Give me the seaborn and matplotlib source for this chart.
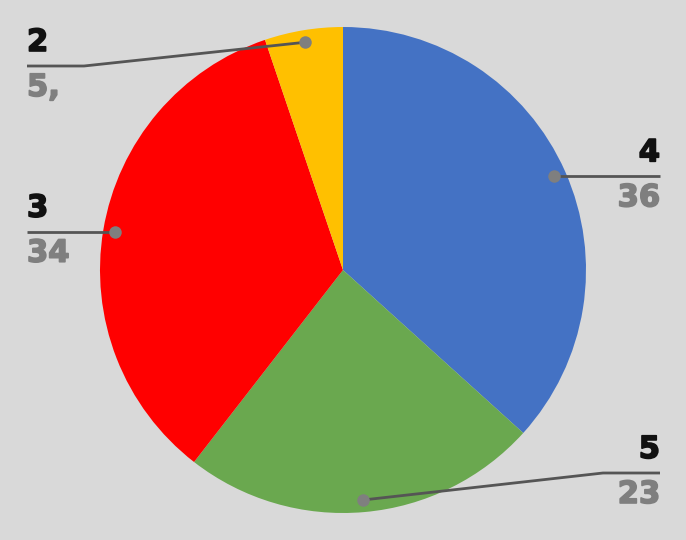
import numpy as np
import matplotlib
matplotlib.use("Agg")
import matplotlib.pyplot as plt
import matplotlib.patheffects as pe
import seaborn as sns

# slices, clockwise from 12 o'clock
categories = ["4", "5", "3", "2"]
values = [36.7, 23.8, 34.3, 5.2]
value_labels = ["36", "23", "34", "5,"]
colors = ["#4472C4", "#6AA84F", "#FF0000", "#FFC000"]

sns.set_style("white")
plt.rcParams["font.family"] = ["DejaVu Sans"]

W, H = 686, 540
bg = "#D9D9D9"
fig = plt.figure(figsize=(W / 100, H / 100), dpi=100, facecolor=bg)
ax = fig.add_axes([0, 0, 1, 1])
ax.set_facecolor(bg)

cx, cy, R = 343, H - 270, 243
ax.pie(values, colors=colors, startangle=90, counterclock=False,
       center=(cx, cy), radius=R, wedgeprops=dict(linewidth=0))
ax.set_xlim(0, W)
ax.set_ylim(0, H)
ax.set_aspect("equal")
ax.axis("off")

# label placement (pixel coords from top): text anchor x, line y, elbow x
layout = {
    "4": dict(x=660, ly=None, ha="right", elbow=None),
    "5": dict(x=660, ly=473, ha="right", elbow=603),
    "3": dict(x=27, ly=None, ha="left", elbow=None),
    "2": dict(x=27, ly=66, ha="left", elbow=84),
}

frac = np.array(values) / sum(values)
ends = np.cumsum(frac) * 360
starts = ends - frac * 360
mids = (starts + ends) / 2

line_col = "#555555"
dot_col = "#7F7F7F"
fs = 22
for cat, lab, m in zip(categories, value_labels, mids):
    t = np.deg2rad(m)
    dx = cx + 0.95 * R * np.sin(t)
    dy = cy + 0.95 * R * np.cos(t)
    L = layout[cat]
    if L["elbow"] is None:
        ly = dy
        xs = [L["x"], dx]
        ys = [ly, dy]
    else:
        ly = H - L["ly"]
        xs = [L["x"], L["elbow"], dx]
        ys = [ly, ly, dy]
    ax.plot(xs, ys, color=line_col, lw=2, solid_capstyle="butt", zorder=3)
    ax.plot([dx], [dy], "o", color=dot_col, ms=9, mec="none", zorder=4)
    ax.text(L["x"], ly + 9, cat, ha=L["ha"], va="bottom", fontsize=fs,
            fontweight="bold", color="#111111",
            path_effects=[pe.withStroke(linewidth=1.2, foreground="#111111")])
    ax.text(L["x"], ly - 7, lab, ha=L["ha"], va="top", fontsize=fs,
            fontweight="bold", color="#7F7F7F",
            path_effects=[pe.withStroke(linewidth=1.2, foreground="#7F7F7F")])

fig.savefig("out.png", dpi=100, facecolor=bg)
